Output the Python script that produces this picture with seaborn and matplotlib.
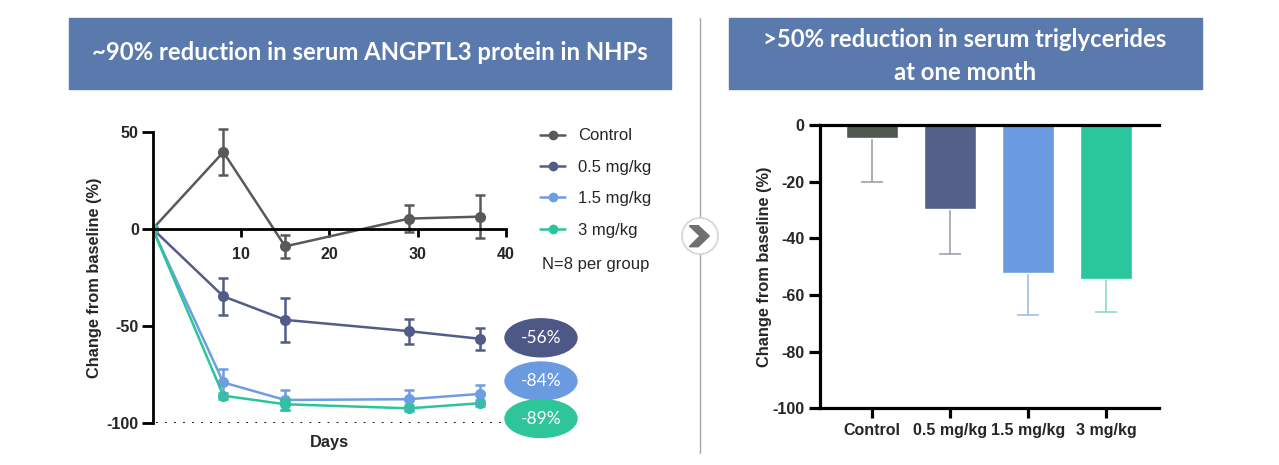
import numpy as np
import pandas as pd
import matplotlib
matplotlib.use("Agg")
import matplotlib.pyplot as plt
import seaborn as sns
from matplotlib.patches import Rectangle, Ellipse, Circle, Polygon
from matplotlib.lines import Line2D

# ---- data ----
groups = ["Control", "0.5 mg/kg", "1.5 mg/kg", "3 mg/kg"]
days = [0, 8, 15, 29, 37]

control_mean = [0, 39.5, -9.0, 5.3, 6.3]
control_sem = [0, 12.0, 6.0, 7.0, 11.0]
low_mean = [0, -34.7, -46.8, -52.6, -56.5]
low_sem = [0, 9.7, 11.2, 6.5, 5.6]
mid_mean = [0, -79.0, -88.0, -87.6, -84.9]
mid_sem = [0, 7.0, 5.0, 4.8, 4.5]
high_mean = [0, -85.8, -90.2, -92.3, -89.7]
high_sem = [0, 1.5, 2.8, 1.5, 1.5]

nadir_labels = ["-56%", "-84%", "-89%"]

tg_values = [-4.7, -29.8, -52.4, -54.4]
tg_err = [15.4, 15.8, 14.8, 11.7]

title_left = "~90% reduction in serum ANGPTL3 protein in NHPs"
title_right = ">50% reduction in serum triglycerides\nat one month"
ylabel = "Change from baseline (%)"

# ---- styles ----
line_colors = ["#595959", "#525c88", "#6e9de3", "#2bc59c"]
bar_colors = ["#4f5850", "#545f8a", "#6a9ae0", "#29c79b"]
bar_err_colors = ["#9a9a9a", "#9a9aa6", "#9db7e2", "#7fd6bd"]
pill_colors = ["#4e5887", "#6a9be1", "#2fc59b"]
box_color = "#5a7aad"

W, H = 1279, 465
TICK_FS = 11.5
LAB_FS = 11.8


def rect(x0, y0, x1, y1):
    return [x0 / W, 1 - y1 / H, (x1 - x0) / W, (y1 - y0) / H]


def px(x, y):
    return (x / 100, (H - y) / 100)


sns.set_theme(style="white")
plt.rcParams["font.family"] = ["Liberation Sans", "DejaVu Sans"]
plt.rcParams["axes.unicode_minus"] = False

fig = plt.figure(figsize=(W / 100, H / 100), dpi=100)
inch = fig.dpi_scale_trans

# header boxes + divider
fig.add_artist(Rectangle(px(69, 89), 6.02, 0.71, transform=inch, color=box_color))
fig.add_artist(Rectangle(px(729, 89), 4.73, 0.71, transform=inch, color=box_color))
fig.text(370 / W, 1 - 53 / H, title_left, ha="center", va="center", color="white",
         fontsize=17.2, fontweight="bold", family=["Lato", "DejaVu Sans"])
fig.text(965 / W, 1 - 56 / H, title_right, ha="center", va="center", color="white",
         fontsize=17.2, fontweight="bold", family=["Lato", "DejaVu Sans"], linespacing=1.5)
fig.add_artist(Line2D([7.0, 7.0], [(H - 18) / 100, (H - 453) / 100], transform=inch,
                      color="#a8a8a8", lw=1))
fig.add_artist(Circle(px(700, 236), 0.18, transform=inch, facecolor="white",
                      edgecolor="#d4d4d4", lw=1.2, zorder=3))
chev = [px(689.3, 225.7), px(698.3, 225.7), px(709.3, 236), px(698.3, 246.7),
        px(689.3, 246.7), px(700, 236)]
fig.add_artist(Polygon(chev, closed=True, transform=inch, color="#707070", zorder=4))

# ---- left panel: time course ----
ax1 = fig.add_axes(rect(152.7, 131.7, 506, 423.3))
means = [control_mean, low_mean, mid_mean, high_mean]
sems = [control_sem, low_sem, mid_sem, high_sem]
df = pd.DataFrame({
    "day": np.tile(days, len(groups)),
    "change": np.concatenate(means),
    "group": np.repeat(groups, len(days)),
})
sns.lineplot(data=df, x="day", y="change", hue="group", hue_order=groups,
             palette=line_colors, marker="o", markersize=8, markeredgewidth=0,
             linewidth=1.8, legend=False, ax=ax1)
for m, s, c in zip(means, sems, line_colors):
    eb = ax1.errorbar(days[1:], m[1:], yerr=s[1:], fmt="none", ecolor=c,
                      elinewidth=1.8, capsize=3.5, capthick=1.8)
    for art in eb.lines[1] + eb.lines[2]:
        art.set_clip_on(False)

ax1.axhline(-100, xmin=0.01, xmax=0.99, color="black", lw=1.3, ls=(0, (1, 4)))
ax1.set_xlim(0, 40)
ax1.set_ylim(-100, 50)
ax1.set_xticks([10, 20, 30, 40])
ax1.set_yticks([-100, -50, 0, 50])
ax1.spines["bottom"].set_position(("data", 0))
for sp in ["top", "right"]:
    ax1.spines[sp].set_visible(False)
for sp in ["left", "bottom"]:
    ax1.spines[sp].set_linewidth(2)
    ax1.spines[sp].set_color("black")
ax1.tick_params(axis="both", direction="out", width=2, labelsize=TICK_FS, color="black")
ax1.tick_params(axis="x", bottom=True, length=6, pad=7)
ax1.tick_params(axis="y", left=True, length=8, pad=2)
for lab in ax1.get_xticklabels() + ax1.get_yticklabels():
    lab.set_fontweight("bold")
ax1.set_xlabel("")
ax1.set_ylabel("")
ax1.text(0.5, (423.3 - 442) / 291.6, "Days", transform=ax1.transAxes, ha="center",
         va="center", fontsize=LAB_FS, fontweight="bold")
ax1.text((94 - 152.7) / 353.3, 0.5, ylabel, transform=ax1.transAxes, rotation=90,
         ha="center", va="center", fontsize=LAB_FS, fontweight="bold")

handles = [Line2D([], [], color=c, marker="o", markersize=7, markeredgewidth=0, lw=1.8)
           for c in line_colors]
leg = ax1.legend(handles, groups, loc="upper left", bbox_to_anchor=(540 / W, 1 - 128.5 / H),
                 bbox_transform=fig.transFigure, frameon=False, borderpad=0,
                 borderaxespad=0, handlelength=1.5, handletextpad=0.8,
                 labelspacing=0.98, fontsize=12)
fig.text(541.7 / W, 1 - 264 / H, "N=8 per group", ha="left", va="center", fontsize=12)

for lab, c, yc in zip(nadir_labels, pill_colors, [337.8, 381, 418.5]):
    fig.add_artist(Ellipse(px(541, yc), 0.72, 0.38, transform=inch, color=c, zorder=5))
    fig.text(541 / W, 1 - yc / H, lab, ha="center", va="center", color="white",
             fontsize=12.5, family=["Lato", "DejaVu Sans"], zorder=6)

# ---- right panel: triglycerides ----
ax2 = fig.add_axes(rect(820, 125, 1159, 408.3))
sns.barplot(x=groups, y=tg_values, hue=groups, palette=bar_colors, width=0.66,
            saturation=1, legend=False, ax=ax2)
for i, (v, e, c) in enumerate(zip(tg_values, tg_err, bar_err_colors)):
    ax2.errorbar(i, v, yerr=[[e], [0]], fmt="none", ecolor=c, elinewidth=1.1,
                 capsize=8, capthick=1.1, zorder=0.5)
ax2.set_xlim(-0.67, 3.68)
ax2.set_ylim(-100, 0)
ax2.set_yticks([0, -20, -40, -60, -80, -100])
ax2.spines["right"].set_visible(False)
for sp in ["left", "top", "bottom"]:
    ax2.spines[sp].set_linewidth(2.3)
    ax2.spines[sp].set_color("black")
ax2.tick_params(axis="both", direction="out", width=2.3, labelsize=TICK_FS,
                color="black", pad=3)
ax2.tick_params(axis="x", bottom=True, top=False, length=7.5)
ax2.tick_params(axis="y", left=True, length=8)
for lab in ax2.get_xticklabels() + ax2.get_yticklabels():
    lab.set_fontweight("bold")
ax2.set_xlabel("")
ax2.set_ylabel("")
ax2.text((765 - 820) / 339, 0.5, ylabel, transform=ax2.transAxes, rotation=90,
         ha="center", va="center", fontsize=LAB_FS, fontweight="bold")

fig.savefig("out.png", dpi=100)
